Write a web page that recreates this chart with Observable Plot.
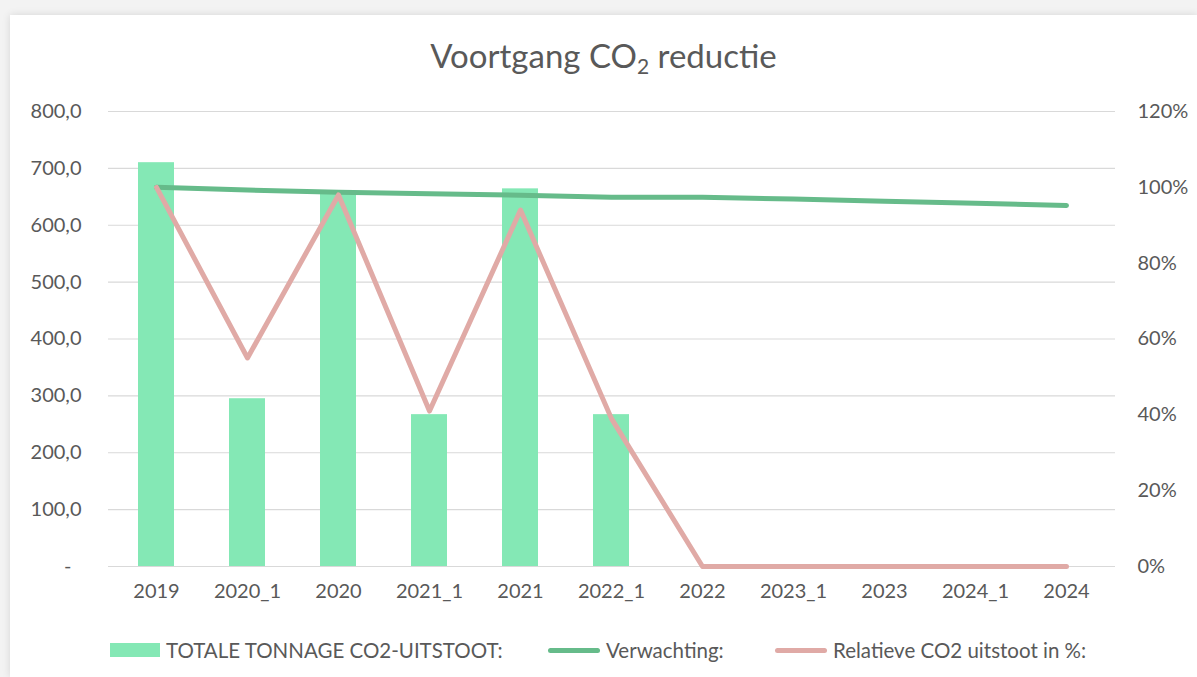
<!DOCTYPE html>
<html>
<head>
<meta charset="utf-8">
<script src="https://cdn.jsdelivr.net/npm/d3@7"></script>
<script src="https://cdn.jsdelivr.net/npm/@observablehq/plot@0.6"></script>
<style>
  html, body { margin: 0; padding: 0; }
  body { width: 1197px; height: 677px; background: #f3f3f3; font-family: Lato, "Open Sans", sans-serif; overflow: hidden; position: relative; }
  #card { position: absolute; left: 10px; top: 15px; width: 1187px; height: 662px; background: #fff; box-shadow: 0 0 8px rgba(0,0,0,0.12); }
  #title { position: absolute; left: 0; top: 20px; width: 1187px; text-align: center; font-size: 33px; color: #595959; line-height: 40px; }
  #title sub { font-size: 21px; vertical-align: -6px; line-height: 0; }
  #chart { position: absolute; left: 0; top: 80px; }
  .leg { position: absolute; top: 624px; height: 22px; display: flex; align-items: center; font-size: 20.5px; color: #595959; white-space: nowrap; }
  .sw { display: inline-block; margin-right: 6px; }
</style>
</head>
<body>
<div id="card">
  <div id="title">Voortgang CO<sub>2</sub> reductie</div>
  <div id="chart"></div>
  <div class="leg" style="left:100px"><span class="sw" style="width:50px;height:14px;background:#84e8b5"></span>TOTALE TONNAGE CO2-UITSTOOT:</div>
  <div class="leg" style="left:538px"><span class="sw" style="width:52px;height:5px;border-radius:3px;background:#66bb8a"></span>Verwachting:</div>
  <div class="leg" style="left:765px"><span class="sw" style="width:52px;height:5px;border-radius:3px;background:#e0aaa6"></span>Relatieve CO2 uitstoot in %:</div>
</div>
<script>
const categories = ["2019","2020_1","2020","2021_1","2021","2022_1","2022","2023_1","2023","2024_1","2024"];
const tonnage = [710, 295, 660, 267, 664, 267, null, null, null, null, null];
const verwachting = [100, 99.3, 98.7, 98.3, 97.9, 97.4, 97.4, 96.9, 96.3, 95.8, 95.2];
const relatief = [100, 55, 98, 41, 94, 39, 0, 0, 0, 0, 0];
const leftTicks = [0, 100, 200, 300, 400, 500, 600, 700, 800];
const leftTickLabels = ["-\u2002", "100,0", "200,0", "300,0", "400,0", "500,0", "600,0", "700,0", "800,0"];
const rightTicks = [0, 20, 40, 60, 80, 100, 120];
const rightTickLabels = ["0%", "20%", "40%", "60%", "80%", "100%", "120%"];

const leftMax = 800, rightMax = 120;
const toLeft = p => p * leftMax / rightMax;

const rows = categories.map((c, i) => ({cat: c, ton: tonnage[i], verw: verwachting[i], rel: relatief[i]}));
const barRows = rows.filter(d => d.ton != null);

const chart = Plot.plot({
  width: 1187,
  height: 525,
  marginLeft: 98,
  marginRight: 82,
  marginTop: 16,
  marginBottom: 54,
  style: {fontFamily: "Lato, 'Open Sans', sans-serif", fontSize: "20px", color: "#595959", background: "transparent"},
  x: {type: "band", domain: categories, paddingInner: 0.6, paddingOuter: 0.3},
  y: {domain: [0, leftMax]},
  marks: [
    Plot.ruleY(leftTicks, {stroke: "#d9d9d9", strokeWidth: 1.2}),
    Plot.barY(barRows, {x: "cat", y: "ton", fill: "#84e8b5"}),
    Plot.line(rows, {x: "cat", y: d => toLeft(d.verw), stroke: "#66bb8a", strokeWidth: 5, strokeLinecap: "round", strokeLinejoin: "round"}),
    Plot.line(rows, {x: "cat", y: d => toLeft(d.rel), stroke: "#e0aaa6", strokeWidth: 5, strokeLinecap: "round", strokeLinejoin: "round"}),
    Plot.axisY(leftTicks, {anchor: "left", tickSize: 0, tickPadding: 27, label: null,
      tickFormat: d => leftTickLabels[leftTicks.indexOf(d)], fill: "#595959"}),
    Plot.axisY(rightTicks.map(toLeft), {anchor: "right", tickSize: 0, tickPadding: 22, label: null,
      tickFormat: d => rightTickLabels[rightTicks.indexOf(Math.round(d * rightMax / leftMax))], fill: "#595959"}),
    Plot.axisX({tickSize: 0, tickPadding: 17, label: null, fill: "#595959"})
  ]
});
document.getElementById("chart").appendChild(chart);
</script>
</body>
</html>
